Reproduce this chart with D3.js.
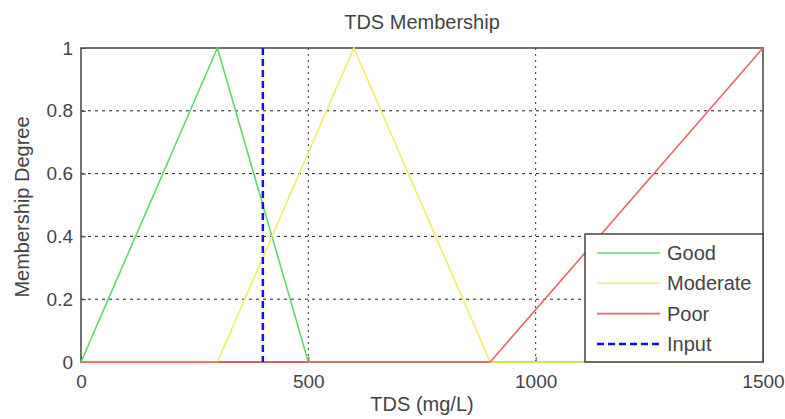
<!DOCTYPE html>
<html lang="en">
    <head>
        <meta charset="utf-8">
        <title>TDS Membership</title>
        <script src="https://d3js.org/d3.v7.min.js"></script>
        <style>
            body {
                margin: 0;
                background-color: white;
                font-family: 'Liberation Sans', Arial, sans-serif;
            }
        </style>
    </head>
    <body>
        <div class="chart"></div>

        <script>
            // membership functions
            const goodX = [0, 300, 500, 1500];
            const goodY = [0, 1, 0, 0];
            const moderateX = [0, 300, 600, 900, 1500];
            const moderateY = [0, 0, 1, 0, 0];
            const poorX = [0, 900, 1500];
            const poorY = [0, 0, 1];
            const inputValue = 400;

            const xTicks = [0, 500, 1000, 1500];
            const yTicks = [0, 0.2, 0.4, 0.6, 0.8, 1];
            const seriesNames = ["Good", "Moderate", "Poor", "Input"];

            const width = 785, height = 419;
            const plotLeft = 81, plotRight = 763, plotTop = 48, plotBottom = 362;

            const svg = d3.select(".chart").append("svg")
                .attr("width", width)
                .attr("height", height);

            const xScale = d3.scaleLinear().domain([0, 1500]).range([plotLeft, plotRight]);
            const yScale = d3.scaleLinear().domain([0, 1]).range([plotBottom, plotTop]);

            // grid
            svg.append("g").selectAll("line")
                .data(yTicks.slice(1, -1))
                .join("line")
                .attr("x1", plotLeft).attr("x2", plotRight)
                .attr("y1", d => yScale(d)).attr("y2", d => yScale(d))
                .style("stroke", "#222")
                .style("stroke-width", 1)
                .style("stroke-dasharray", "3,4");
            svg.append("g").selectAll("line")
                .data(xTicks.slice(1, -1))
                .join("line")
                .attr("x1", d => xScale(d)).attr("x2", d => xScale(d))
                .attr("y1", plotTop).attr("y2", plotBottom)
                .style("stroke", "#333")
                .style("stroke-width", 1)
                .style("stroke-dasharray", "2,4");

            // axes
            const xAxis = d3.axisBottom(xScale).tickValues(xTicks).tickSize(-5).tickPadding(13).tickFormat(d3.format("d"));
            const yAxis = d3.axisLeft(yScale).tickValues(yTicks).tickSize(-5).tickPadding(8).tickFormat(d => d === 0 || d === 1 ? d : d3.format(".1f")(d));

            const gx = svg.append("g").attr("transform", `translate(0,${plotBottom})`).call(xAxis);
            const gy = svg.append("g").attr("transform", `translate(${plotLeft},0)`).call(yAxis);
            [gx, gy].forEach(g => {
                g.select(".domain").remove();
                g.selectAll(".tick line").style("stroke", "#444");
                g.selectAll("text")
                    .style("font-family", "'Liberation Sans', Arial, sans-serif")
                    .style("font-size", "19px")
                    .style("fill", "#444");
            });

            // frame
            svg.append("rect")
                .attr("x", plotLeft).attr("y", plotTop)
                .attr("width", plotRight - plotLeft).attr("height", plotBottom - plotTop)
                .style("fill", "none")
                .style("stroke", "#444")
                .style("stroke-width", 1.5);

            const series = [
                {name: "Good", xs: goodX, ys: goodY, color: "#5fd86c"},
                {name: "Moderate", xs: moderateX, ys: moderateY, color: "#f2ee62"},
                {name: "Poor", xs: poorX, ys: poorY, color: "#ea6464"}
            ];

            const line = d3.line()
                .x(d => xScale(d[0]))
                .y(d => yScale(d[1]));

            series.forEach(s => {
                svg.append("path")
                    .datum(d3.zip(s.xs, s.ys))
                    .attr("d", line)
                    .style("fill", "none")
                    .style("stroke", s.color)
                    .style("stroke-width", 1.6);
            });

            svg.append("line")
                .attr("x1", xScale(inputValue)).attr("x2", xScale(inputValue))
                .attr("y1", yScale(1)).attr("y2", yScale(0))
                .style("stroke", "#1010e8")
                .style("stroke-width", 2.5)
                .style("stroke-dasharray", "7,4");

            // title and labels
            const label = (x, y, txt) => svg.append("text")
                .attr("x", x).attr("y", y)
                .attr("text-anchor", "middle")
                .style("font-size", "20px")
                .style("fill", "#444")
                .text(txt);
            label((plotLeft + plotRight) / 2, 29, "TDS Membership");
            label((plotLeft + plotRight) / 2, 411, "TDS (mg/L)");
            label(0, 0, "Membership Degree")
                .attr("transform", `translate(29,${(plotTop + plotBottom) / 2 + 2}) rotate(-90)`);

            // legend
            const legend = svg.append("g");
            legend.append("rect")
                .attr("x", 585).attr("y", 234)
                .attr("width", 178).attr("height", 128)
                .style("fill", "white")
                .style("stroke", "#444")
                .style("stroke-width", 1.5);
            const legendColors = series.map(s => s.color).concat(["#1010e8"]);
            seriesNames.forEach((name, i) => {
                const y = 253 + i * 30.3;
                legend.append("line")
                    .attr("x1", 597).attr("x2", 660)
                    .attr("y1", y).attr("y2", y)
                    .style("stroke", legendColors[i])
                    .style("stroke-width", i === 3 ? 2.5 : 1.6)
                    .style("stroke-dasharray", i === 3 ? "7,4" : null);
                legend.append("text")
                    .attr("x", 667).attr("y", y + 7)
                    .style("font-size", "20px")
                    .style("fill", "#444")
                    .text(name);
            });
        </script>
    </body>
</html>
